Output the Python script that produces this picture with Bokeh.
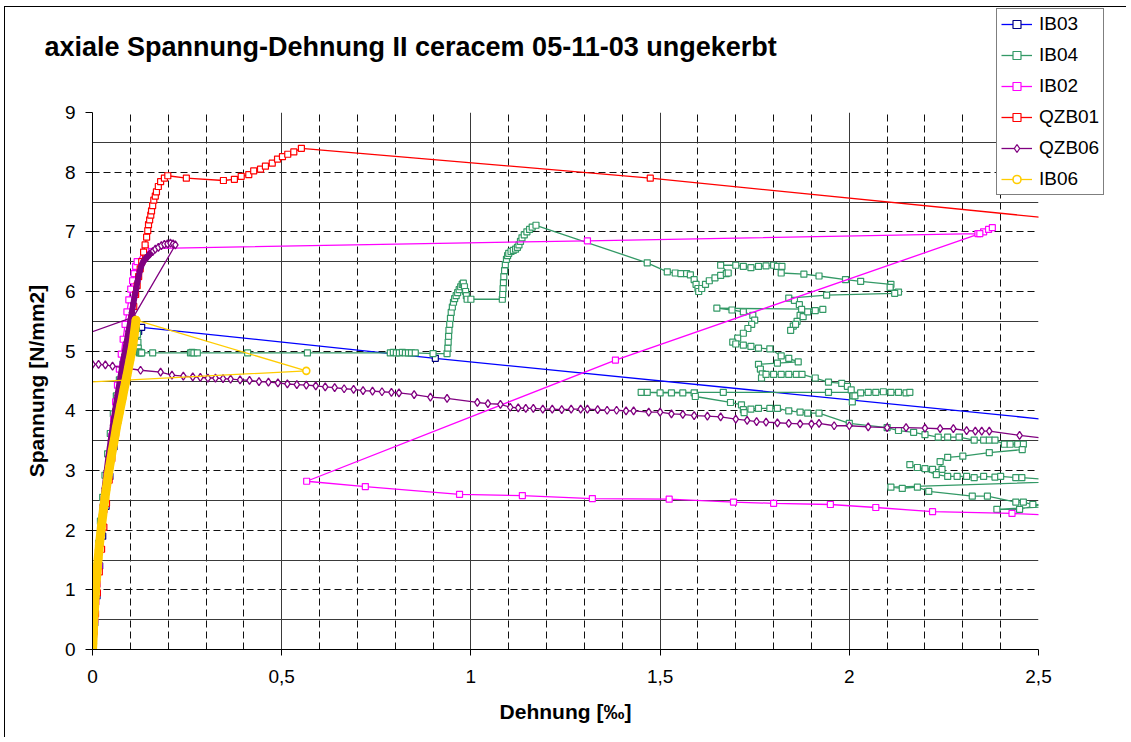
from bokeh.plotting import figure
from bokeh.models import Range1d, FixedTicker, Grid, Label, Legend, LegendItem
from bokeh.embed import file_html
from bokeh.resources import INLINE

# ---------------- data ----------------
TITLE = "axiale Spannung-Dehnung II ceracem 05-11-03 ungekerbt"
X_LABEL = "Dehnung [‰]"
Y_LABEL = "Spannung [N/mm2]"
X_TICKS = [0, 0.5, 1, 1.5, 2, 2.5]
X_TICK_LABELS = ["0", "0,5", "1", "1,5", "2", "2,5"]
Y_TICKS = [0, 1, 2, 3, 4, 5, 6, 7, 8, 9]

SERIES_NAMES = ["IB03", "IB04", "IB02", "QZB01", "QZB06", "IB06"]

IB03_pts = [(0.000, 0.00), (0.006, 0.45), (0.012, 0.90), (0.019, 1.40), (0.027, 1.90),
            (0.036, 2.40), (0.046, 2.90), (0.057, 3.40), (0.068, 3.85), (0.080, 4.30),
            (0.092, 4.70), (0.103, 5.00), (0.113, 5.20), (0.122, 5.33), (0.130, 5.40),
            (0.906, 4.88), (3.000, 3.55)]

IB04_pts = [(0.000, 0.00), (0.002, 0.30), (0.005, 0.65), (0.008, 1.00), (0.012, 1.40),
            (0.016, 1.78), (0.021, 2.15), (0.027, 2.55), (0.033, 2.92), (0.040, 3.28),
            (0.047, 3.62), (0.055, 3.95), (0.063, 4.25), (0.071, 4.52), (0.080, 4.78),
            (0.089, 5.00), (0.097, 5.15), (0.105, 5.26), (0.111, 5.32), (0.116, 5.35),
            (0.119, 5.28), (0.120, 5.15), (0.121, 5.05), (0.122, 4.99), (0.124, 4.97),
            (0.126, 4.98), (0.128, 4.97), (0.130, 4.97),
            (0.159, 4.97), (0.259, 4.97), (0.263, 4.98), (0.268, 4.97), (0.277, 4.97),
            (0.410, 4.97), (0.568, 4.97), (0.787, 4.97), (0.795, 4.98), (0.803, 4.97),
            (0.811, 4.97), (0.819, 4.98), (0.827, 4.97), (0.835, 4.97), (0.843, 4.97),
            (0.853, 4.97), (0.900, 4.96), (0.937, 4.96),
            (0.939, 5.05), (0.940, 5.15), (0.941, 5.25), (0.942, 5.35), (0.944, 5.45),
            (0.946, 5.55), (0.948, 5.65), (0.951, 5.74), (0.954, 5.82), (0.957, 5.88),
            (0.961, 5.93), (0.965, 5.98), (0.969, 6.03), (0.973, 6.08), (0.977, 6.12),
            (0.980, 6.14), (0.983, 6.08), (0.986, 6.00), (0.988, 5.93), (0.990, 5.87),
            (1.000, 5.87), (1.083, 5.87),
            (1.084, 5.95), (1.085, 6.05), (1.086, 6.15), (1.087, 6.25), (1.089, 6.35),
            (1.091, 6.45), (1.094, 6.54), (1.097, 6.60), (1.100, 6.64), (1.106, 6.67),
            (1.112, 6.69), (1.118, 6.71), (1.123, 6.74), (1.127, 6.78), (1.131, 6.84),
            (1.135, 6.90), (1.141, 6.95), (1.148, 7.00), (1.155, 7.04), (1.162, 7.08),
            (1.172, 7.11),
            (1.466, 6.48), (1.519, 6.33), (1.540, 6.31), (1.555, 6.30), (1.570, 6.30),
            (1.580, 6.28), (1.590, 6.20), (1.595, 6.12), (1.600, 6.05), (1.602, 6.00),
            (1.610, 6.05), (1.620, 6.12), (1.630, 6.18), (1.645, 6.23), (1.660, 6.27),
            (1.675, 6.30), (1.680, 6.31), (1.660, 6.44), (1.700, 6.44), (1.720, 6.42),
            (1.740, 6.40), (1.760, 6.42), (1.780, 6.43), (1.800, 6.44), (1.810, 6.42),
            (1.822, 6.42), (1.820, 6.31), (1.880, 6.29), (1.920, 6.26), (1.990, 6.20),
            (2.030, 6.17), (2.110, 6.12), (2.108, 6.07), (2.130, 5.99), (2.120, 5.97),
            (1.940, 5.94), (1.840, 5.89), (1.855, 5.85), (1.868, 5.78), (1.874, 5.70),
            (1.870, 5.60), (1.862, 5.50), (1.852, 5.42), (1.845, 5.35), (1.858, 5.45),
            (1.878, 5.58), (1.890, 5.66), (1.910, 5.68), (1.930, 5.70), (1.650, 5.72),
            (1.690, 5.69), (1.720, 5.66), (1.745, 5.60), (1.750, 5.52), (1.742, 5.45),
            (1.732, 5.38), (1.720, 5.30), (1.705, 5.22), (1.692, 5.15), (1.700, 5.12),
            (1.720, 5.10), (1.740, 5.08), (1.760, 5.05), (1.790, 5.04), (1.820, 4.92),
            (1.840, 4.88), (1.865, 4.82), (1.810, 4.80), (1.760, 4.78), (1.765, 4.70),
            (1.770, 4.62), (1.768, 4.55), (1.780, 4.61), (1.800, 4.61), (1.820, 4.61),
            (1.840, 4.61), (1.860, 4.61), (1.875, 4.61), (1.910, 4.55), (1.945, 4.48),
            (1.980, 4.46), (1.995, 4.41), (2.005, 4.35), (2.010, 4.25), (2.008, 4.15),
            (2.015, 4.25), (2.030, 4.30), (2.050, 4.31), (2.070, 4.31), (2.090, 4.32),
            (2.110, 4.31), (2.130, 4.31), (2.150, 4.30), (2.160, 4.31), (1.945, 4.31),
            (1.667, 4.31), (1.450, 4.31), (1.466, 4.31), (1.500, 4.30), (1.530, 4.30),
            (1.560, 4.30), (1.590, 4.30), (1.593, 4.24), (1.686, 4.14), (1.715, 4.10),
            (1.720, 4.02), (1.722, 3.97), (1.740, 4.03), (1.760, 4.04), (1.790, 4.04),
            (1.810, 4.04), (1.840, 4.00), (1.870, 3.98), (1.890, 3.96), (1.920, 3.96),
            (2.000, 3.79), (2.100, 3.72), (2.130, 3.67), (2.170, 3.64), (2.200, 3.60),
            (2.235, 3.56), (2.260, 3.56), (2.290, 3.56), (2.330, 3.51), (2.355, 3.51),
            (2.370, 3.51), (2.385, 3.51), (2.410, 3.44), (2.425, 3.44), (2.445, 3.44),
            (2.460, 3.44), (2.457, 3.35), (2.370, 3.30), (2.300, 3.24), (2.260, 3.22),
            (2.240, 3.15), (2.245, 3.02), (2.220, 3.02), (2.200, 3.03), (2.180, 3.05),
            (2.160, 3.10), (2.230, 2.93), (2.260, 2.90), (2.285, 2.90), (2.310, 2.90),
            (2.330, 2.88), (2.355, 2.90), (2.385, 2.89), (2.400, 2.90), (2.440, 2.88),
            (2.456, 2.88), (2.600, 2.82), (2.110, 2.72), (2.140, 2.70), (2.180, 2.72),
            (2.210, 2.65), (2.325, 2.57), (2.365, 2.57), (2.440, 2.47), (2.460, 2.47),
            (2.485, 2.43), (2.600, 2.42), (2.390, 2.35), (2.450, 2.35), (2.600, 2.56)]

IB02_pts = [(0.000, 0.00), (0.003, 0.25), (0.006, 0.50), (0.009, 0.80), (0.013, 1.10),
            (0.017, 1.40), (0.021, 1.72), (0.026, 2.04), (0.031, 2.35), (0.036, 2.65),
            (0.041, 2.96), (0.046, 3.27), (0.051, 3.57), (0.056, 3.86), (0.061, 4.15),
            (0.066, 4.43), (0.071, 4.70), (0.076, 4.95), (0.081, 5.20), (0.086, 5.45),
            (0.091, 5.66), (0.096, 5.86), (0.101, 6.04), (0.106, 6.18), (0.110, 6.30),
            (0.114, 6.42), (0.118, 6.50),
            (0.140, 6.72), (1.308, 6.85), (2.340, 6.97), (2.355, 7.00), (2.368, 7.04),
            (2.378, 7.07), (2.345, 6.97), (1.382, 4.85), (0.566, 2.82), (0.721, 2.73),
            (0.970, 2.60), (1.136, 2.58), (1.321, 2.53), (1.524, 2.52), (1.694, 2.47),
            (1.800, 2.45), (1.950, 2.43), (2.070, 2.38), (2.220, 2.31), (2.430, 2.28),
            (2.700, 2.20)]

QZB01_pts = [(0.000, 0.00), (0.004, 0.30), (0.008, 0.60), (0.013, 0.95), (0.018, 1.30),
             (0.024, 1.68), (0.030, 2.05), (0.037, 2.45), (0.044, 2.84), (0.051, 3.20),
             (0.058, 3.55), (0.065, 3.88), (0.072, 4.20), (0.079, 4.50), (0.086, 4.80),
             (0.092, 5.05), (0.098, 5.30), (0.104, 5.55), (0.109, 5.75), (0.114, 5.95),
             (0.118, 6.10), (0.122, 6.25), (0.126, 6.38), (0.130, 6.50), (0.135, 6.66),
             (0.139, 6.78), (0.143, 6.91), (0.146, 7.02), (0.148, 7.12), (0.151, 7.20),
             (0.154, 7.28), (0.156, 7.35), (0.159, 7.44), (0.162, 7.53), (0.166, 7.60),
             (0.169, 7.67), (0.174, 7.76), (0.180, 7.84), (0.190, 7.90), (0.199, 7.94),
             (0.248, 7.90), (0.346, 7.86), (0.375, 7.88), (0.393, 7.93), (0.413, 7.96),
             (0.426, 8.02), (0.444, 8.05), (0.457, 8.10), (0.475, 8.15), (0.489, 8.22),
             (0.502, 8.26), (0.516, 8.30), (0.532, 8.34), (0.552, 8.40), (1.474, 7.90),
             (3.000, 6.93)]

QZB06_pts = [(0.000, 0.00), (0.002, 0.25), (0.004, 0.50), (0.006, 0.75), (0.009, 1.02),
             (0.012, 1.30), (0.015, 1.58), (0.019, 1.87), (0.023, 2.15), (0.027, 2.42),
             (0.032, 2.70), (0.037, 2.97), (0.042, 3.23), (0.048, 3.50), (0.054, 3.76),
             (0.060, 4.02), (0.066, 4.26), (0.072, 4.50), (0.078, 4.72), (0.084, 4.94),
             (0.090, 5.15), (0.095, 5.33), (0.100, 5.50), (0.104, 5.65), (0.108, 5.80),
             (0.112, 5.94), (0.116, 6.06), (0.119, 6.17), (0.122, 6.26), (0.125, 6.34),
             (0.128, 6.41), (0.131, 6.46), (0.135, 6.51), (0.140, 6.55), (0.146, 6.59),
             (0.152, 6.63), (0.159, 6.67), (0.166, 6.71), (0.174, 6.74), (0.182, 6.77),
             (0.190, 6.79), (0.198, 6.80), (0.206, 6.81), (0.213, 6.80), (0.219, 6.78),
             (0.108, 5.57), (-0.100, 5.10), (-0.010, 4.78),
             (0.000, 4.78), (0.016, 4.78), (0.034, 4.77), (0.053, 4.75), (0.127, 4.68),
             (0.180, 4.65), (0.210, 4.60), (0.240, 4.58), (0.265, 4.57), (0.285, 4.56),
             (0.305, 4.55), (0.325, 4.55), (0.345, 4.54), (0.365, 4.53), (0.390, 4.52),
             (0.415, 4.51), (0.440, 4.49), (0.465, 4.48), (0.490, 4.47), (0.515, 4.45),
             (0.540, 4.44), (0.565, 4.43), (0.590, 4.42), (0.615, 4.40), (0.640, 4.39),
             (0.665, 4.37), (0.690, 4.36), (0.715, 4.34), (0.740, 4.33), (0.765, 4.32),
             (0.790, 4.31), (0.810, 4.30), (0.850, 4.27), (0.893, 4.23), (0.937, 4.21),
             (1.017, 4.14), (1.045, 4.12), (1.078, 4.11), (1.104, 4.06), (1.125, 4.05),
             (1.145, 4.04), (1.165, 4.04), (1.190, 4.03), (1.215, 4.03), (1.240, 4.02),
             (1.265, 4.03), (1.290, 4.03), (1.308, 4.03), (1.335, 4.02), (1.360, 4.01),
             (1.385, 4.01), (1.410, 4.00), (1.430, 4.00), (1.470, 3.98), (1.500, 3.98),
             (1.530, 3.95), (1.560, 3.94), (1.590, 3.92), (1.625, 3.91), (1.660, 3.90),
             (1.700, 3.86), (1.730, 3.84), (1.755, 3.82), (1.780, 3.81), (1.810, 3.80),
             (1.840, 3.79), (1.870, 3.78), (1.900, 3.78), (1.920, 3.79), (1.960, 3.75),
             (2.000, 3.75), (2.050, 3.73), (2.100, 3.72), (2.150, 3.72), (2.200, 3.71),
             (2.240, 3.70), (2.275, 3.70), (2.310, 3.67), (2.333, 3.66), (2.350, 3.66),
             (2.370, 3.66), (2.450, 3.59), (2.600, 3.48)]

IB06_pts = [(0.000, 0.00), (0.001, 0.10), (0.002, 0.25), (0.003, 0.40), (0.004, 0.55),
            (0.006, 0.75), (0.007, 0.90), (0.009, 1.05), (0.011, 1.22), (0.013, 1.38),
            (0.015, 1.53), (0.017, 1.66), (0.019, 1.80), (0.022, 1.96), (0.024, 2.09),
            (0.027, 2.24), (0.030, 2.40), (0.033, 2.54), (0.036, 2.68), (0.039, 2.81),
            (0.042, 2.94), (0.045, 3.06), (0.049, 3.20), (0.052, 3.33), (0.056, 3.46),
            (0.060, 3.60), (0.063, 3.72), (0.067, 3.84), (0.071, 3.97), (0.075, 4.10),
            (0.079, 4.22), (0.083, 4.35), (0.087, 4.47), (0.091, 4.59), (0.095, 4.72),
            (0.099, 4.85), (0.103, 4.98), (0.107, 5.12), (0.110, 5.27), (0.113, 5.42),
            (0.115, 5.52), (0.565, 4.67), (-0.300, 4.39)]

ALL_POINTS = [IB03_pts, IB04_pts, IB02_pts, QZB01_pts, QZB06_pts, IB06_pts]
# how many leading points of each series are so densely measured that the
# markers merge into one solid band (style hint only)
DENSE_COUNT = [0, 0, 0, 0, 36, 41]

# ---------------- styles ----------------
FONT = "Liberation Sans"
LINE_COLORS = ["#0000FF", "#339966", "#FF00FF", "#FF0000", "#800080", "#FFCC00"]
MARK_COLORS = ["#000080", "#339966", "#FF00FF", "#FF0000", "#800080", "#FFCC00"]
MARKERS = ["square", "square", "square", "square", "diamond", "circle"]
MSIZES = [6, 6, 6, 6, 8, 7]
MLW = [1.2, 1.2, 1.2, 1.2, 1.3, 1.6]
BAND_W = [0, 0, 0, 0, 6, 9]

p = figure(frame_width=946, frame_height=537,
           min_border_left=87, min_border_top=105,
           min_border_right=88, min_border_bottom=88,
           x_range=Range1d(0, 2.5), y_range=Range1d(0, 9),
           output_backend="svg", toolbar_location=None, title=None)
p.outline_line_color = None
p.background_fill_color = "white"
p.border_fill_color = "white"
p.xgrid.visible = False
p.ygrid.visible = False

# grids
x_dash = [round(i * 0.1, 1) for i in range(1, 25) if i % 5]
x_solid = [0.5, 1.0, 1.5, 2.0, 2.5]
y_dash = [1, 2, 3, 4, 5, 6, 7, 8, 9]
y_solid = [0.5, 1.5, 2.5, 3.5, 4.5, 5.5, 6.5, 7.5, 8.5]
p.add_layout(Grid(dimension=0, ticker=FixedTicker(ticks=x_dash),
                  grid_line_color="#111111", grid_line_dash="7 4", grid_line_width=1))
p.add_layout(Grid(dimension=1, ticker=FixedTicker(ticks=y_dash),
                  grid_line_color="#111111", grid_line_dash="7 4", grid_line_width=1))
p.add_layout(Grid(dimension=0, ticker=FixedTicker(ticks=x_solid),
                  grid_line_color="#3a3a3a", grid_line_width=1))
p.add_layout(Grid(dimension=1, ticker=FixedTicker(ticks=y_solid),
                  grid_line_color="#3a3a3a", grid_line_width=1))

# axes
for ax in (p.xaxis[0], p.yaxis[0]):
    ax.axis_line_color = "black"
    ax.axis_line_width = 1
    ax.major_tick_line_color = "black"
    ax.major_tick_in = 0
    ax.minor_tick_line_color = None
    ax.major_label_text_font = FONT
    ax.major_label_text_font_size = "19px"
    ax.major_label_text_color = "black"
    ax.axis_label_text_font = FONT
    ax.axis_label_text_font_size = "21px"
    ax.axis_label_text_font_style = "bold"
    ax.axis_label_text_color = "black"

p.xaxis.ticker = FixedTicker(ticks=X_TICKS)
p.xaxis.major_label_overrides = {t: s for t, s in zip(X_TICKS, X_TICK_LABELS)}
p.xaxis.major_tick_out = 6
p.xaxis.major_label_standoff = 14
p.xaxis.axis_label = X_LABEL
p.xaxis.axis_label_standoff = 14

p.yaxis.ticker = FixedTicker(ticks=Y_TICKS)
p.yaxis.major_tick_out = 7
p.yaxis.major_label_standoff = 10
p.yaxis.axis_label = Y_LABEL
p.yaxis.axis_label_standoff = 14

# overlay figure for title and legend (transparent, absolutely positioned)
OW, OH = 1120, 200
q = figure(frame_width=OW, frame_height=OH, min_border=0,
           x_range=Range1d(0, OW), y_range=Range1d(OH, 0),
           x_axis_location=None, y_axis_location=None,
           output_backend="svg", toolbar_location=None, title=None)
q.outline_line_color = None
q.background_fill_color = None
q.border_fill_color = None
q.xgrid.visible = False
q.ygrid.visible = False
# range far away from the data so that the legend's sample renderers stay unseen
q.extra_x_ranges = {"offscreen": Range1d(100, 101)}

# series
items = []
for name, pts, lc, mc, mk, ms, mlw, nd, bw in zip(SERIES_NAMES, ALL_POINTS, LINE_COLORS,
                                                  MARK_COLORS, MARKERS, MSIZES, MLW,
                                                  DENSE_COUNT, BAND_W):
    xs = [a for a, b in pts]
    ys = [b for a, b in pts]
    p.line(xs, ys, line_color=lc, line_width=1.3)
    p.scatter(xs, ys, marker=mk, size=ms, line_color=mc, line_width=mlw,
              fill_color="white")
    if nd:
        p.line(xs[:nd], ys[:nd], line_color=lc, line_width=bw, line_join="round",
               line_cap="round")
    # legend sample renderers (same data and style, mapped off screen)
    lr = q.line(xs, ys, line_color=lc, line_width=1.3, x_range_name="offscreen")
    sr = q.scatter(xs, ys, marker=mk, size=ms, line_color=mc, line_width=mlw,
                   fill_color="white", x_range_name="offscreen")
    items.append(LegendItem(label=name, renderers=[lr, sr]))

legend = Legend(items=items, location=(996, 5),
                label_text_font=FONT, label_text_font_size="19px",
                label_text_color="black",
                glyph_width=31, glyph_height=20, label_height=20,
                label_standoff=7, spacing=9, padding=4, margin=0,
                border_line_color="black", border_line_width=1,
                background_fill_color="white", background_fill_alpha=1.0)
q.add_layout(legend)

q.add_layout(Label(x=44, y=46, text=TITLE, text_font=FONT,
                   text_font_style="bold", text_font_size="27px",
                   text_baseline="middle", text_align="left",
                   text_color="black"))

p.styles = {"margin-left": "4px", "margin-top": "6px",
            "border-left": "1px solid #000000", "border-top": "1px solid #000000"}
q.styles = {"position": "absolute", "left": "0px", "top": "0px"}

open("out.html", "w").write(file_html([p, q], INLINE))
